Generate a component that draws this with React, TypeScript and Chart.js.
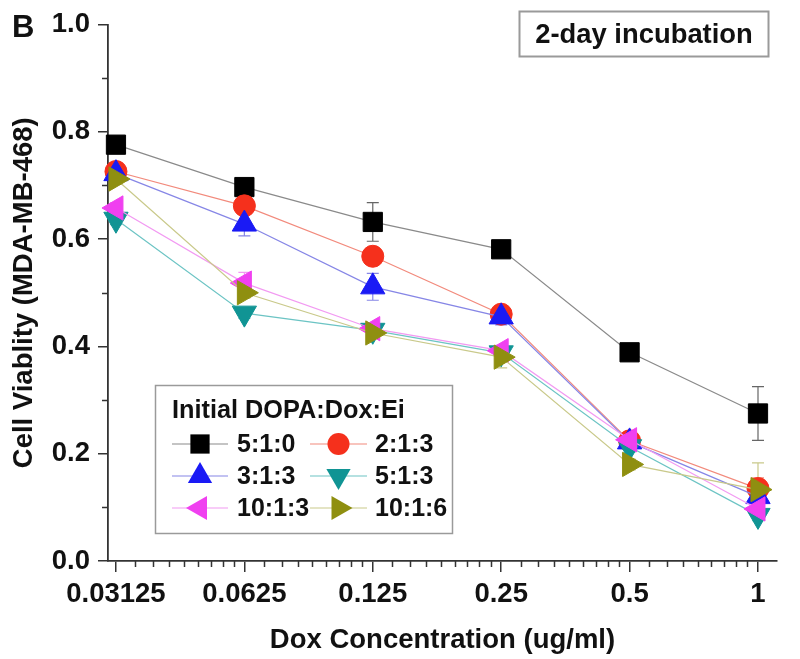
import React, { useEffect, useRef } from 'react';
import { Chart, registerables } from 'chart.js';

Chart.register(...registerables);

// ---------- data ----------
const concentrations = [0.03125, 0.0625, 0.125, 0.25, 0.5, 1];
const xTickLabels = ['0.03125', '0.0625', '0.125', '0.25', '0.5', '1'];
const yTickValues = [0, 0.2, 0.4, 0.6, 0.8, 1.0];

const seriesNames = ['5:1:0', '2:1:3', '3:1:3', '5:1:3', '10:1:3', '10:1:6'];

const viability_5_1_0 = [0.776, 0.697, 0.632, 0.581, 0.389, 0.275];
const viability_2_1_3 = [0.726, 0.662, 0.568, 0.46, 0.224, 0.135];
const viability_3_1_3 = [0.722, 0.628, 0.511, 0.455, 0.222, 0.12];
const viability_5_1_3 = [0.637, 0.462, 0.43, 0.388, 0.213, 0.085];
const viability_10_1_3 = [0.658, 0.518, 0.433, 0.392, 0.226, 0.097];
const viability_10_1_6 = [0.712, 0.5, 0.425, 0.38, 0.18, 0.133];

const error_5_1_0 = [0.012, 0.012, 0.036, 0.012, 0.01, 0.05];
const error_2_1_3 = [0.01, 0.012, 0.01, 0.01, 0.01, 0.02];
const error_3_1_3 = [0.012, 0.022, 0.025, 0.015, 0.01, 0.015];
const error_5_1_3 = [0.01, 0.01, 0.01, 0.01, 0.01, 0.01];
const error_10_1_3 = [0.01, 0.02, 0.01, 0.01, 0.01, 0.01];
const error_10_1_6 = [0.01, 0.01, 0.01, 0.02, 0.01, 0.05];

const seriesValues = [viability_5_1_0, viability_2_1_3, viability_3_1_3, viability_5_1_3, viability_10_1_3, viability_10_1_6];
const seriesErrors = [error_5_1_0, error_2_1_3, error_3_1_3, error_5_1_3, error_10_1_3, error_10_1_6];

const legendTitle = 'Initial DOPA:Dox:Ei';
const boxTitle = '2-day incubation';
const panelLabel = 'B';
const xTitle = 'Dox Concentration (ug/ml)';
const yTitle = 'Cell Viablity (MDA-MB-468)';

// ---------- styles ----------
const FONT = "'Liberation Sans', Arial, Helvetica, sans-serif";
const markerColors = ['#000000', '#f5301c', '#1a1af5', '#109494', '#f040f0', '#8f8f10'];
const lineColors = ['#8a8a8a', '#f28a7c', '#8686e6', '#6cc4c4', '#f29af2', '#c9c98a'];
const markerStyles = ['rect', 'circle', 'triangle', 'triangle', 'triangle', 'triangle'];
const markerRotations = [0, 0, 0, 180, 270, 90];
const markerRadii = [13.6, 11, 14, 14, 14, 14];

function drawMarker(ctx: CanvasRenderingContext2D, style: string, x: number, y: number, r: number, rot: number, fill: string) {
  ctx.save();
  ctx.beginPath();
  if (style === 'rect') {
    const s = r * Math.SQRT1_2;
    ctx.rect(x - s, y - s, 2 * s, 2 * s);
  } else if (style === 'circle') {
    ctx.arc(x, y, r, 0, Math.PI * 2);
  } else {
    let rad = (rot * Math.PI) / 180;
    ctx.moveTo(x + Math.sin(rad) * r, y - Math.cos(rad) * r);
    for (let k = 0; k < 2; k++) {
      rad += (2 * Math.PI) / 3;
      ctx.lineTo(x + Math.sin(rad) * r, y - Math.cos(rad) * r);
    }
    ctx.closePath();
  }
  ctx.fillStyle = fill;
  ctx.fill();
  ctx.restore();
}

const extrasPlugin = {
  id: 'extras',
  beforeDatasetsDraw(chart: any) {
    const ctx: CanvasRenderingContext2D = chart.ctx;
    const xs = chart.scales.x;
    const ys = chart.scales.y;
    ctx.save();
    ctx.lineWidth = 1.2;
    seriesValues.forEach((vals, s) => {
      ctx.strokeStyle = s === 0 ? '#666' : lineColors[s];
      vals.forEach((v, i) => {
        const e = seriesErrors[s][i];
        const px = xs.getPixelForValue(concentrations[i]);
        const top = ys.getPixelForValue(v + e);
        const bot = ys.getPixelForValue(v - e);
        ctx.beginPath();
        ctx.moveTo(px, top);
        ctx.lineTo(px, bot);
        ctx.moveTo(px - 6, top);
        ctx.lineTo(px + 6, top);
        ctx.moveTo(px - 6, bot);
        ctx.lineTo(px + 6, bot);
        ctx.stroke();
      });
    });
    ctx.restore();
  },
  afterDraw(chart: any) {
    const ctx: CanvasRenderingContext2D = chart.ctx;
    const xs = chart.scales.x;
    const ys = chart.scales.y;
    const area = chart.chartArea;
    ctx.save();
    // minor ticks
    ctx.strokeStyle = '#333';
    ctx.lineWidth = 1.5;
    ctx.beginPath();
    for (let i = 0; i < concentrations.length - 1; i++) {
      for (let k = 1; k <= 8; k++) {
        const px = Math.round(xs.getPixelForValue(concentrations[i] * (1 + k / 9))) + 0.5;
        ctx.moveTo(px, area.bottom);
        ctx.lineTo(px, area.bottom + 6);
      }
    }
    for (let i = 0; i < yTickValues.length - 1; i++) {
      const py = Math.round(ys.getPixelForValue((yTickValues[i] + yTickValues[i + 1]) / 2)) + 0.5;
      ctx.moveTo(area.left, py);
      ctx.lineTo(area.left - 6, py);
    }
    ctx.stroke();

    // panel label
    ctx.fillStyle = '#111';
    ctx.font = `bold 31px ${FONT}`;
    ctx.textAlign = 'left';
    ctx.textBaseline = 'alphabetic';
    ctx.fillText(panelLabel, 12, 37);

    // title box
    ctx.strokeStyle = '#9a9a9a';
    ctx.lineWidth = 2;
    ctx.strokeRect(519.5, 11.5, 249, 45);
    ctx.font = `bold 27.4px ${FONT}`;
    ctx.textAlign = 'center';
    ctx.textBaseline = 'middle';
    ctx.fillText(boxTitle, 644, 35);

    // legend
    ctx.lineWidth = 1.5;
    ctx.strokeRect(155.5, 385.5, 297, 148);
    ctx.font = `bold 25.3px ${FONT}`;
    ctx.textAlign = 'left';
    ctx.fillText(legendTitle, 172, 411);
    const rowsY = [444, 476, 508];
    const colLineX = [[172, 228], [310, 367]];
    const colLabelX = [237, 375];
    seriesNames.forEach((name, s) => {
      const row = Math.floor(s / 2);
      const col = s % 2;
      const y = rowsY[row];
      const [x0, x1] = colLineX[col];
      ctx.strokeStyle = lineColors[s];
      ctx.lineWidth = 1.2;
      ctx.beginPath();
      ctx.moveTo(x0, y);
      ctx.lineTo(x1, y);
      ctx.stroke();
      drawMarker(ctx, markerStyles[s], (x0 + x1) / 2, y, markerRadii[s], markerRotations[s], markerColors[s]);
      ctx.fillStyle = '#111';
      ctx.font = `bold 25px ${FONT}`;
      ctx.fillText(name, colLabelX[col], y + 1);
    });
    ctx.restore();
  },
};

export default function App() {
  const canvasRef = useRef<HTMLCanvasElement | null>(null);

  useEffect(() => {
    if (!canvasRef.current) return;
    Chart.defaults.font.family = FONT;
    const datasets = seriesValues.map((vals, s) => ({
      label: seriesNames[s],
      data: vals.map((v, i) => ({ x: concentrations[i], y: v })),
      borderColor: lineColors[s],
      borderWidth: 1.2,
      backgroundColor: markerColors[s],
      pointBackgroundColor: markerColors[s],
      pointBorderColor: markerColors[s],
      pointBorderWidth: 1,
      pointStyle: markerStyles[s],
      pointRotation: markerRotations[s],
      pointRadius: markerRadii[s],
      pointHoverRadius: markerRadii[s],
      tension: 0,
      fill: false,
      order: seriesValues.length - s,
      clip: false as any,
    }));

    const tickFont = { size: 27.5, weight: 'bold', family: FONT };

    const chart = new Chart(canvasRef.current, {
      type: 'line',
      data: { datasets },
      options: {
        responsive: false,
        animation: false,
        events: [],
        layout: { padding: { top: 23, right: 23, left: 0, bottom: 0 } },
        plugins: { legend: { display: false }, tooltip: { enabled: false } },
        scales: {
          x: {
            type: 'logarithmic',
            min: Math.pow(2, -5.062),
            max: Math.pow(2, 0.148),
            afterBuildTicks: (scale: any) => {
              scale.ticks = concentrations.map((v) => ({ value: v }));
            },
            afterFit: (scale: any) => {
              scale.height = 98;
            },
            ticks: {
              autoSkip: false,
              maxRotation: 0,
              minRotation: 0,
              padding: 6,
              color: '#111',
              font: tickFont,
              callback: (value: any) => {
                const idx = concentrations.findIndex((c) => Math.abs(c - Number(value)) < 1e-9);
                return idx >= 0 ? xTickLabels[idx] : '';
              },
            },
            grid: { drawOnChartArea: false, drawTicks: true, tickLength: 11, color: '#333', lineWidth: 1.5 },
            border: { display: true, color: '#333', width: 1.8 },
            title: {
              display: true,
              text: xTitle,
              color: '#111',
              font: tickFont,
              padding: { top: 0, bottom: 2 },
            },
          },
          y: {
            type: 'linear',
            min: 0,
            max: 1.0,
            afterBuildTicks: (scale: any) => {
              scale.ticks = yTickValues.map((v) => ({ value: v }));
            },
            afterFit: (scale: any) => {
              scale.width = 108;
            },
            ticks: {
              padding: 8,
              color: '#111',
              font: tickFont,
              callback: (value: any) => Number(value).toFixed(1),
            },
            grid: { drawOnChartArea: false, drawTicks: true, tickLength: 10, color: '#333', lineWidth: 1.5 },
            border: { display: true, color: '#333', width: 1.8 },
            title: {
              display: true,
              text: yTitle,
              color: '#111',
              font: tickFont,
              padding: { top: 8, bottom: 0 },
            },
          },
        },
      },
      plugins: [extrasPlugin],
    } as any);
    return () => chart.destroy();
  }, []);

  return (
    <div style={{ position: 'fixed', left: 0, top: 0, width: 800, height: 659, background: '#fff' }}>
      <canvas ref={canvasRef} width={800} height={659} style={{ display: 'block' }} />
    </div>
  );
}
